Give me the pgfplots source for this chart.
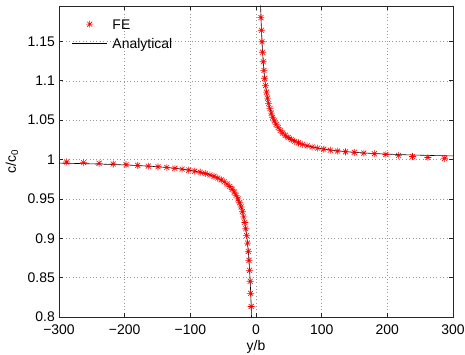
\documentclass[border=0pt]{standalone}
\usepackage{fontspec}
\setmainfont{Liberation Sans}
\usepackage{pgfplots}
\pgfplotsset{compat=1.18}

% eight-spoke asterisk, drawn as a plus over a cross
\pgfdeclareplotmark{star8}{%
  \pgfpathmoveto{\pgfqpoint{-\pgfplotmarksize}{0pt}}%
  \pgfpathlineto{\pgfqpoint{\pgfplotmarksize}{0pt}}%
  \pgfpathmoveto{\pgfqpoint{0pt}{-\pgfplotmarksize}}%
  \pgfpathlineto{\pgfqpoint{0pt}{\pgfplotmarksize}}%
  \pgfpathmoveto{\pgfqpoint{-0.707\pgfplotmarksize}{-0.707\pgfplotmarksize}}%
  \pgfpathlineto{\pgfqpoint{0.707\pgfplotmarksize}{0.707\pgfplotmarksize}}%
  \pgfpathmoveto{\pgfqpoint{-0.707\pgfplotmarksize}{0.707\pgfplotmarksize}}%
  \pgfpathlineto{\pgfqpoint{0.707\pgfplotmarksize}{-0.707\pgfplotmarksize}}%
  \pgfusepathqstroke}

\newcommand{\lblfont}{\fontsize{14}{16}\selectfont}

\begin{document}
\begin{tikzpicture}
\begin{axis}[
  at={(0,0)}, anchor=south west,
  scale only axis, width=394bp, height=311bp,
  xmin=-300, xmax=300, ymin=0.8, ymax=1.195,
  xtick={-300,-200,-100,0,100,200,300},
  xticklabels={−300,−200,−100,0,100,200,300},
  ytick={0.8,0.85,0.9,0.95,1,1.05,1.1,1.15},
  yticklabels={0.8,0.85,0.9,0.95,1,1.05,1.1,1.15},
  tick label style={font=\lblfont},
  xticklabel style={inner sep=0pt, yshift=-8bp},
  yticklabel style={inner sep=0pt, xshift=-4bp},
  xlabel={y/b},
  ylabel={c/c\textsubscript{0}},
  xlabel style={font=\lblfont, inner sep=0pt, at={(axis description cs:0.5,0)}, anchor=north, yshift=-23bp},
  ylabel style={font=\lblfont, inner sep=0pt, at={(axis description cs:-0.1033,0.5)}, anchor=south},
  grid=major,
  major grid style={dash pattern=on 0.8bp off 2.6bp, black!40, line width=0.5bp},
  axis line style={black!85, line width=0.6bp},
  tick style={black!85, line width=0.6bp},
  major tick length=4bp,
  legend cell align=left,
  legend style={draw=none, fill=none, font=\lblfont,
    at={(rel axis cs:0,1)}, anchor=north west, xshift=12.7bp, yshift=-13bp,
    inner sep=0pt, row sep=9bp,
    nodes={inner sep=0pt, text height=10bp, text depth=0bp},
    /tikz/every odd column/.append style={column sep=5bp}},
  legend image code/.code={%
    \draw[mark repeat=2, mark phase=2, #1] plot coordinates {(0bp,0bp) (17.5bp,0bp) (35bp,0bp)};},
]

% finite element nodal values
\addplot[only marks, mark=star8, mark size=3.5bp, draw=red, mark options={line width=0.6bp}]
coordinates {
(-288.39,0.9969) (-262.49,0.9960) (-238.91,0.9952) (-217.45,0.9943) (-197.91,0.9935)
(-180.13,0.9926) (-163.95,0.9917) (-149.22,0.9908) (-135.82,0.9899) (-123.62,0.9889)
(-112.51,0.9878) (-102.40,0.9866) (-93.204,0.9853) (-84.831,0.9839) (-77.211,0.9823)
(-70.275,0.9805) (-63.962,0.9786) (-58.216,0.9765) (-52.986,0.9741) (-48.226,0.9716)
(-43.894,0.9688) (-39.951,0.9657) (-36.362,0.9623) (-33.095,0.9586) (-30.122,0.9545)
(-27.416,0.9500) (-24.953,0.9451) (-22.712,0.9397) (-20.671,0.9337) (-18.814,0.9272)
(-17.124,0.9200) (-15.586,0.9121) (-14.186,0.9034) (-12.911,0.8939) (-11.752,0.8834)
(-10.696,0.8719) (-9.735,0.8593) (-8.8605,0.8454) (-8.0645,0.8301) (-7.34,0.8134)
(7.6,1.1803) (8.342,1.1642) (9.156,1.1496) (10.050,1.1363) (11.030,1.1242)
(12.107,1.1132) (13.289,1.1031) (14.586,1.0939) (16.009,1.0856) (17.572,1.0780)
(19.287,1.0710) (21.169,1.0647) (23.235,1.0590) (25.503,1.0537) (27.992,1.0489)
(30.724,1.0446) (33.722,1.0406) (37.014,1.0370) (40.626,1.0337) (44.591,1.0307)
(48.943,1.0280) (53.720,1.0255) (58.963,1.0232) (64.718,1.0211) (71.035,1.0192)
(77.968,1.0175) (85.577,1.0159) (93.930,1.0145) (103.10,1.0132) (113.16,1.0119)
(124.20,1.0108) (136.33,1.0098) (149.63,1.0091) (164.24,1.0082) (180.27,1.0074)
(197.86,1.0064) (217.17,1.0053) (238.37,1.0039) (261.63,1.0026) (287.17,1.0016)
};
\addlegendentry{FE}

% analytical solution, branch y < 0
\addplot[black, line width=0.6bp, no marks]
coordinates {
(-300,0.99543) (-265,0.99483) (-230,0.99404) (-195,0.99297) (-165,0.99170)
(-140,0.99021) (-120,0.98858) (-105,0.98695) (-92,0.98511) (-80,0.98287)
(-70,0.98043) (-62,0.97790) (-55,0.97509) (-48,0.97146) (-43,0.96814)
(-38,0.96395) (-34,0.95971) (-30,0.95433) (-27,0.94926) (-24,0.94292)
(-22,0.93773) (-20,0.93150) (-18,0.92389) (-16.5,0.91697) (-15,0.90867)
(-14,0.90214) (-13,0.89462) (-12,0.88583) (-11,0.87545) (-10,0.86300)
(-9.5,0.85579) (-9,0.84778) (-8.5,0.83882) (-8,0.82875) (-7.6,0.81974)
(-7.2,0.80972) (-6.85,0.80000)
};
\addlegendentry{Analytical}

% analytical solution, branch y > 0
\addplot[black, line width=0.6bp, no marks, forget plot]
coordinates {
(7.0,1.19571) (7.2,1.19028) (7.6,1.18026) (8,1.17125) (8.5,1.16118)
(9,1.15222) (9.5,1.14421) (10,1.13700) (11,1.12455) (12,1.11417)
(13,1.10538) (14,1.09786) (15,1.09133) (16.5,1.08303) (18,1.07611)
(20,1.06850) (22,1.06227) (24,1.05708) (27,1.05074) (30,1.04567)
(34,1.04029) (38,1.03605) (43,1.03186) (48,1.02854) (55,1.02491)
(62,1.02210) (70,1.01957) (80,1.01713) (92,1.01489) (105,1.01305)
(120,1.01142) (140,1.00979) (165,1.00830) (195,1.00703) (230,1.00596)
(265,1.00517) (300,1.00457)
};
\end{axis}
\pgfresetboundingbox
\path (-59bp,-38bp) rectangle (406bp,317bp);
\end{tikzpicture}
\end{document}
